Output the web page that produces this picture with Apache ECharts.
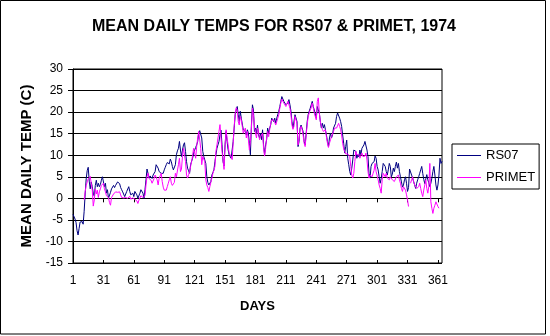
<!DOCTYPE html>
<html><head><meta charset="utf-8">
<script src="https://cdn.jsdelivr.net/npm/echarts@6/dist/echarts.min.js"></script>
<style>html,body{margin:0;padding:0;background:#fff}#c{width:550px;height:336px}</style>
</head><body><div id="c"></div>
<script>
// Categories: day numbers 1..365
const days = [];
for (let d = 1; d <= 365; d++) days.push(String(d));

const seriesNames = ['RS07', 'PRIMET'];

// RS07 mean daily temperature (C)
const rs07 = [
  -3.7,-4.0,-4.8,-5.6,-7.5,-8.5,-7.0,-5.5,-5.2,-5.4,
  -6.0,-3.0,1.0,4.5,6.4,7.2,4.0,2.2,3.8,2.7,
  1.2,0.5,3.0,4.2,2.7,3.5,2.7,3.2,4.2,5.0,
  4.8,2.7,3.5,1.2,2.0,0.0,-0.2,1.4,2.2,2.6,
  3.0,2.5,3.0,3.4,3.8,4.2,3.4,2.5,2.0,1.5,
  1.2,0.4,1.0,1.6,2.0,2.7,1.6,0.8,1.0,1.2,
  0.4,1.6,1.2,0.8,0.0,0.4,1.2,2.0,2.4,1.2,
  0.0,2.0,4.3,6.8,5.8,4.7,5.2,5.0,4.6,5.4,
  5.8,6.2,7.8,8.1,7.0,6.2,6.0,5.8,5.4,5.8,
  6.6,7.2,7.8,8.3,8.5,8.0,9.1,8.5,7.4,6.6,
  7.0,7.8,10.1,11.0,11.6,13.2,11.2,9.7,11.2,12.4,
  12.9,10.9,8.5,7.0,6.4,5.8,7.8,8.6,9.3,10.5,
  11.2,11.8,12.4,13.2,15.1,15.7,15.3,14.0,10.9,9.7,
  8.9,8.1,5.0,3.7,3.1,3.5,3.9,5.4,6.0,6.6,
  8.5,10.1,11.6,12.4,13.2,14.7,15.8,12.4,8.5,7.5,
  12.4,15.5,13.2,11.3,10.1,10.5,9.3,8.9,13.2,16.3,
  19.4,20.5,21.3,19.4,17.8,20.2,18.6,19.0,15.9,16.3,
  15.5,14.7,15.9,15.1,12.8,10.1,17.0,21.7,20.5,15.5,
  16.3,15.1,17.0,14.7,14.0,15.1,13.6,15.9,12.4,10.1,
  12.4,13.6,16.3,15.1,16.3,17.0,18.6,18.6,17.8,18.6,
  17.4,18.6,19.0,20.2,21.3,22.5,23.6,23.3,22.5,22.9,
  21.7,21.3,22.1,22.9,21.7,20.2,17.8,16.3,15.9,19.4,
  19.8,17.8,12.0,13.2,16.3,17.0,16.7,15.5,13.2,12.4,
  15.1,17.8,19.4,20.2,20.9,21.7,22.5,21.3,20.5,20.2,
  18.6,21.3,20.5,19.8,17.8,16.3,17.4,16.3,17.1,17.4,
  14.7,13.2,12.0,14.0,15.1,14.0,14.7,16.3,16.7,17.4,
  19.0,19.8,19.4,18.6,17.8,16.7,14.7,12.8,10.5,12.0,
  13.5,9.3,7.8,6.2,5.4,7.0,8.9,11.2,11.6,10.9,
  9.3,10.1,9.6,11.2,10.1,11.6,11.9,12.4,13.2,13.6,
  11.2,9.7,5.8,4.7,7.4,8.1,7.8,8.5,9.8,9.3,
  7.4,6.6,5.0,3.5,4.6,6.2,8.1,8.4,7.4,6.2,
  5.4,6.6,8.1,7.4,5.0,5.6,7.0,6.2,7.4,8.4,
  7.0,8.1,6.2,5.0,3.8,2.6,3.1,4.3,5.0,3.5,
  1.6,2.5,6.8,6.6,5.4,4.7,3.9,3.1,2.3,3.5,
  4.3,5.0,5.8,6.6,7.4,5.8,4.4,3.4,4.5,5.5,
  4.3,3.6,2.7,3.5,4.7,6.2,7.4,5.4,3.1,1.9,
  3.1,5.4,9.3,8.1,8.6
];

// PRIMET mean daily temperature (C) (null = no data)
const primet = [
  null,null,null,null,null,null,null,null,null,null,
  null,-0.4,1.5,3.0,3.8,4.5,4.8,5.1,3.5,1.9,
  -1.8,-0.4,2.2,1.0,1.9,0.2,1.5,2.2,3.0,3.3,
  3.5,2.2,1.5,0.6,0.4,0.2,-1.0,-1.6,0.2,0.6,
  1.0,0.6,1.5,1.9,1.4,1.0,1.5,0.8,0.2,0.0,
  0.1,-0.2,0.2,0.1,0.0,0.3,0.5,-0.2,0.0,0.1,
  0.0,-0.2,-0.4,-0.6,-1.2,-0.4,0.0,0.6,0.4,0.2,
  0.0,0.6,3.1,5.0,5.8,4.6,5.0,4.2,3.5,3.9,
  4.6,5.4,5.8,4.3,3.1,4.7,5.2,5.8,3.9,2.6,
  1.9,1.6,1.9,2.7,3.5,4.3,5.0,3.5,3.0,2.7,
  3.7,5.8,5.0,4.7,7.8,9.3,6.2,6.8,9.7,11.6,
  10.0,8.5,5.4,4.7,5.5,6.2,7.4,8.5,10.0,11.6,
  10.5,9.3,12.0,14.0,15.5,15.9,11.6,7.8,9.7,9.3,
  8.5,4.3,3.1,2.5,1.6,2.7,3.7,4.7,5.8,6.5,
  7.4,10.9,12.4,14.0,15.5,17.1,14.0,10.9,8.9,6.7,
  12.0,15.9,14.0,12.4,10.5,10.1,9.7,9.0,12.8,16.7,
  19.8,21.0,20.5,17.8,17.0,19.0,18.2,16.7,15.1,15.5,
  16.3,14.0,15.5,13.6,11.2,13.2,16.3,20.9,19.4,16.7,
  15.1,14.0,16.3,15.5,13.6,14.3,14.0,15.1,11.6,9.8,
  11.6,14.0,15.5,14.3,15.9,17.4,18.2,17.8,18.2,17.8,
  17.0,17.8,18.6,19.4,20.9,22.1,23.0,22.7,22.1,22.5,
  21.3,21.7,22.5,22.1,20.9,19.4,17.0,16.0,16.7,19.0,
  19.4,17.4,12.4,13.6,16.0,16.7,16.0,14.7,12.8,12.0,
  14.7,17.0,19.0,19.8,20.5,21.0,22.1,21.0,19.8,19.4,
  18.2,22.5,23.3,19.8,17.8,16.7,16.0,15.5,15.1,15.9,
  14.3,12.8,11.8,12.8,13.6,14.3,14.7,15.5,16.3,16.0,
  16.3,16.7,17.4,16.7,15.9,14.7,12.8,11.5,10.9,10.3,
  10.5,10.3,10.1,9.7,7.4,5.4,4.7,5.8,8.5,10.9,
  10.1,9.7,10.1,9.3,8.9,10.5,9.7,9.3,9.8,10.5,
  8.9,6.2,4.7,5.4,5.8,5.0,5.8,6.5,8.1,6.2,
  5.8,4.3,3.1,2.3,1.2,4.3,5.8,5.4,5.0,5.8,
  4.7,5.0,4.3,5.0,4.7,4.3,4.7,3.9,4.3,5.0,
  4.7,5.4,4.3,3.5,2.3,1.6,2.7,3.1,1.9,0.8,
  -0.4,-1.9,null,3.5,4.3,5.0,3.9,3.1,3.5,2.3,
  1.9,2.7,3.5,2.3,1.2,0.4,1.9,3.1,4.3,2.3,
  1.2,2.7,8.1,-0.8,-2.3,-3.5,-2.3,-1.6,-0.8,-0.4,
  -1.9,-2.3,null,null,null
];

const yMin = -15, yMax = 30, yStep = 5;
const FONT = '"Liberation Sans", Arial, Helvetica, sans-serif';

const chart = echarts.init(document.getElementById('c'), null, {renderer: 'canvas'});
chart.setOption({
  animation: false,
  backgroundColor: '#ffffff',
  textStyle: {fontFamily: FONT, color: '#000'},
  grid: {left: 73, right: 108, top: 69, bottom: 73, show: true,
         borderColor: '#000', borderWidth: 1, backgroundColor: '#ffffff'},
  xAxis: [{
    type: 'category', data: days, boundaryGap: false, position: 'bottom',
    axisLine: {lineStyle: {color: '#000', width: 1}},
    axisTick: {interval: 29, length: 4, lineStyle: {color: '#000'}},
    axisLabel: {interval: 29, color: '#000', fontFamily: FONT, fontSize: 12, margin: 12},
    splitLine: {show: false},
    name: 'DAYS', nameLocation: 'middle', nameGap: 37,
    nameTextStyle: {color: '#000', fontFamily: FONT, fontSize: 13, fontWeight: 'bold'}
  }, {
    type: 'category', data: days, boundaryGap: false, position: 'bottom',
    axisLine: {show: false},
    axisTick: {show: true, inside: true, interval: 29, length: 3, lineStyle: {color: '#000'}},
    axisLabel: {show: false}, splitLine: {show: false}
  }],
  yAxis: {
    type: 'value', min: yMin, max: yMax, interval: yStep,
    axisLine: {show: true, lineStyle: {color: '#000', width: 1}},
    axisTick: {show: true, length: 5, lineStyle: {color: '#000'}},
    axisLabel: {color: '#000', fontFamily: FONT, fontSize: 12, margin: 10},
    splitLine: {show: true, lineStyle: {color: '#000', width: 1}},
    name: 'MEAN DAILY TEMP (C)', nameLocation: 'middle', nameGap: 36,
    nameTextStyle: {color: '#000', fontFamily: FONT, fontSize: 15, fontWeight: 'bold'}
  },
  legend: {
    orient: 'vertical', left: 452, top: 144,
    padding: [4, 4, 4, 5], itemGap: 7, itemWidth: 24, itemHeight: 1,
    icon: 'rect',
    borderColor: '#000', borderWidth: 1, borderRadius: 0, backgroundColor: '#ffffff',
    textStyle: {color: '#000', fontFamily: FONT, fontSize: 13, lineHeight: 15},
    data: seriesNames
  },
  series: [{
    name: seriesNames[0], type: 'line', data: rs07, symbol: 'none', xAxisIndex: 0,
    lineStyle: {color: '#000080', width: 1}, itemStyle: {color: '#000080'}
  }, {
    name: seriesNames[1], type: 'line', data: primet, symbol: 'none', xAxisIndex: 0,
    lineStyle: {color: '#ff00ff', width: 1}, itemStyle: {color: '#ff00ff'}
  }],
  graphic: [{
    type: 'text', x: 274, y: 27, silent: true,
    style: {text: 'MEAN DAILY TEMPS FOR RS07 & PRIMET, 1974', fill: '#000',
            font: 'bold 16px ' + FONT, align: 'center', verticalAlign: 'middle',
            textAlign: 'center', textVerticalAlign: 'middle'}
  }, {
    type: 'rect', silent: true, z: 100,
    shape: {x: 0.5, y: 0.5, width: 545, height: 333.5},
    style: {fill: 'none', stroke: '#000', lineWidth: 1}
  }]
});
</script></body></html>
